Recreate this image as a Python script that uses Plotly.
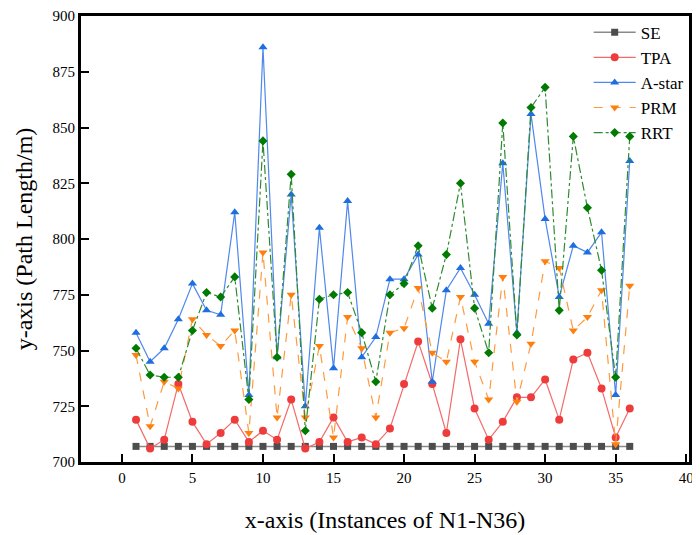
import plotly.graph_objects as go

instances = list(range(1, 37))

se = [707] * 36
tpa = [719, 706, 710, 735, 718, 708, 713, 719, 709, 714, 710, 728, 706, 709, 720, 709, 711, 708, 715,
       735, 754, 735, 713, 755, 724, 710, 718, 729, 729, 737, 719, 746, 749, 733, 711, 724]
astar = [758, 745, 751, 764, 780, 768, 766, 812, 730, 886, 747, 820, 725, 805, 742, 817, 747, 756, 782,
         782, 793, 736, 777, 787, 775, 762, 834, 758, 856, 809, 774, 797, 794, 803, 730, 835]
prm = [748, 716, 736, 733, 764, 757, 752, 759, 713, 794, 720, 775, 720, 752, 711, 765, 751, 720, 758,
       760, 778, 749, 745, 774, 745, 728, 783, 727, 753, 790, 787, 759, 765, 777, 708, 779]
rrt = [751, 739, 738, 738, 759, 776, 774, 783, 728, 844, 747, 829, 714, 773, 775, 776, 758, 736, 775,
       780, 797, 769, 793, 825, 769, 749, 852, 757, 859, 868, 768, 846, 814, 786, 738, 846]

x_ticks = list(range(0, 41, 5))
y_ticks = list(range(700, 901, 25))

font_family = "Liberation Serif"

fig = go.Figure()

fig.add_trace(go.Scatter(x=instances, y=se, name="SE", mode="lines+markers",
                         line=dict(color="#8a8a8a", width=1.5),
                         marker=dict(symbol="square", size=7, color="#4d4d4d")))
fig.add_trace(go.Scatter(x=instances, y=tpa, name="TPA", mode="lines+markers",
                         line=dict(color="#f46a6a", width=1.2),
                         marker=dict(symbol="circle", size=8, color="#ee3b3b")))
fig.add_trace(go.Scatter(x=instances, y=astar, name="A-star", mode="lines+markers",
                         line=dict(color="#4f88ec", width=1.2),
                         marker=dict(symbol="triangle-up", size=8, color="#1f6ee0")))
fig.add_trace(go.Scatter(x=instances, y=prm, name="PRM", mode="lines+markers",
                         line=dict(color="#ff9a3c", width=1.2, dash="dash"),
                         marker=dict(symbol="triangle-down", size=8, color="#ff7f0e")))
fig.add_trace(go.Scatter(x=instances, y=rrt, name="RRT", mode="lines+markers",
                         line=dict(color="#2e8b2e", width=1.2, dash="dashdot"),
                         marker=dict(symbol="diamond", size=7, color="#007a00")))

fig.update_layout(
    width=692, height=527,
    margin=dict(l=73, r=11, t=8, b=73, autoexpand=False),
    paper_bgcolor="white", plot_bgcolor="white",
    font=dict(family=font_family, color="black"),
    showlegend=True,
    legend=dict(x=0.835, y=1.003, xanchor="left", yanchor="top",
                bgcolor="rgba(0,0,0,0)", font=dict(size=17, family=font_family),
                itemwidth=42, tracegroupgap=0),
)

fig.update_xaxes(range=[-2.9, 40.2], tickvals=x_ticks, ticks="inside", ticklen=8, tickwidth=2,
                 tickcolor="black", showline=True, linewidth=3, linecolor="black", mirror=True,
                 showgrid=False, zeroline=False, automargin=False,
                 tickfont=dict(size=15, family=font_family),
                 title=dict(text="x-axis (Instances of N1-N36)", font=dict(size=24, family=font_family),
                            standoff=27))
fig.update_yaxes(range=[700, 900], tickvals=y_ticks, ticks="inside", ticklen=8, tickwidth=2,
                 tickcolor="black", showline=True, linewidth=3, linecolor="black", mirror=True,
                 showgrid=False, zeroline=False, automargin=False,
                 tickfont=dict(size=15, family=font_family),
                 title=dict(text="y-axis (Path Length/m)", font=dict(size=24, family=font_family),
                            standoff=14))

fig.write_html("out.html")
